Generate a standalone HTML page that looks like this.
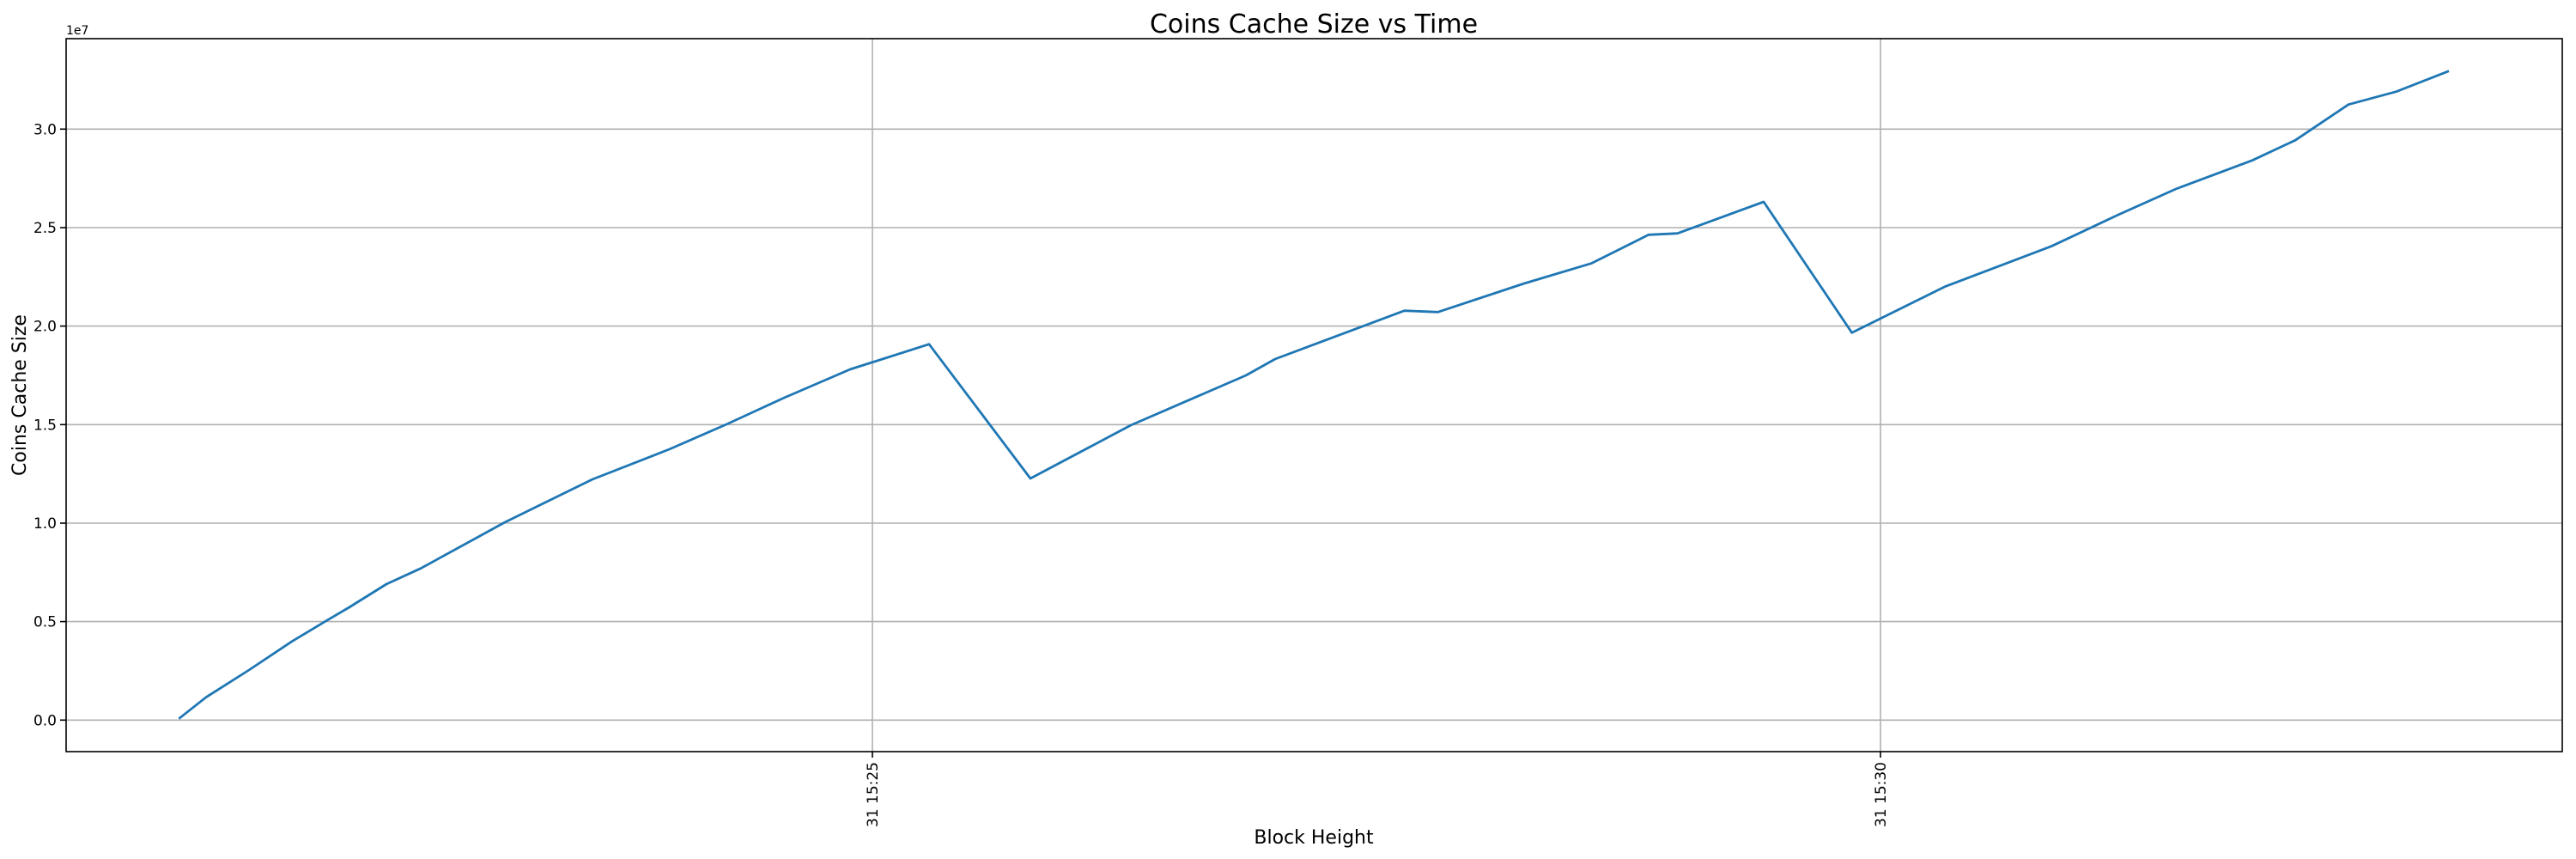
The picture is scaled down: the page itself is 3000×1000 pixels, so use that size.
<!DOCTYPE html>
<html><head><meta charset="utf-8"><style>
html,body{margin:0;padding:0;background:#fff;}
svg{display:block;font-family:"DejaVu Sans","Liberation Sans",sans-serif;}
</style></head><body>
<svg width="3000" height="1000" viewBox="0 0 3000 1000" xmlns="http://www.w3.org/2000/svg">
<rect width="3000" height="1000" fill="#fff"/>
<g stroke="#b0b0b0" stroke-width="1.6">
<line x1="77" x2="2984" y1="838.3" y2="838.3"/>
<line x1="77" x2="2984" y1="723.6" y2="723.6"/>
<line x1="77" x2="2984" y1="609" y2="609"/>
<line x1="77" x2="2984" y1="494.3" y2="494.3"/>
<line x1="77" x2="2984" y1="379.6" y2="379.6"/>
<line x1="77" x2="2984" y1="265" y2="265"/>
<line x1="77" x2="2984" y1="150.3" y2="150.3"/>
<line x1="1016" x2="1016" y1="45" y2="875"/>
<line x1="2190" x2="2190" y1="45" y2="875"/>
</g>
<polyline fill="none" stroke="#1f77b4" stroke-width="2.8" stroke-linejoin="round"
points="208.3,836.7 240,811.7 290,780 340,746.7 381.7,721.7 406.7,707 450,680 490,661.7 588,608 690,558 779.5,523 846,494 913.4,463 990,430 1082,400.7 1200,557 1317,495 1451,437 1485,418 1635.5,361.7 1674.5,363.3 1775,330 1853,306.7 1920,273.3 1953.6,271.7 2054,235 2156.7,387.3 2266,333.3 2389,286.7 2467,250 2534,220 2623,186.7 2673,163.3 2735,121.7 2790.6,106.7 2852,82.7"/>
<rect x="77" y="45" width="2907" height="830" fill="none" stroke="#000" stroke-width="1.6"/>
<g stroke="#000" stroke-width="1.6">
<line x1="70" x2="77" y1="838.3" y2="838.3"/>
<line x1="70" x2="77" y1="723.6" y2="723.6"/>
<line x1="70" x2="77" y1="609" y2="609"/>
<line x1="70" x2="77" y1="494.3" y2="494.3"/>
<line x1="70" x2="77" y1="379.6" y2="379.6"/>
<line x1="70" x2="77" y1="265" y2="265"/>
<line x1="70" x2="77" y1="150.3" y2="150.3"/>
<line x1="1016" x2="1016" y1="875" y2="882"/>
<line x1="2190" x2="2190" y1="875" y2="882"/>
</g>
<g font-size="17" text-anchor="end" fill="#000">
<text x="66" y="844.3">0.0</text>
<text x="66" y="729.6">0.5</text>
<text x="66" y="615">1.0</text>
<text x="66" y="500.3">1.5</text>
<text x="66" y="385.6">2.0</text>
<text x="66" y="271">2.5</text>
<text x="66" y="156.3">3.0</text>
</g>
<text x="77" y="40" font-size="14">1e7</text>
<g font-size="17" text-anchor="end">
<text transform="translate(1022,887) rotate(-90)">31 15:25</text>
<text transform="translate(2196,887) rotate(-90)">31 15:30</text>
</g>
<text x="1530" y="38" font-size="30" text-anchor="middle">Coins Cache Size vs Time</text>
<text x="1530" y="982" font-size="22" text-anchor="middle">Block Height</text>
<text transform="translate(30,460) rotate(-90)" font-size="22" text-anchor="middle">Coins Cache Size</text>
</svg>
</body></html>
